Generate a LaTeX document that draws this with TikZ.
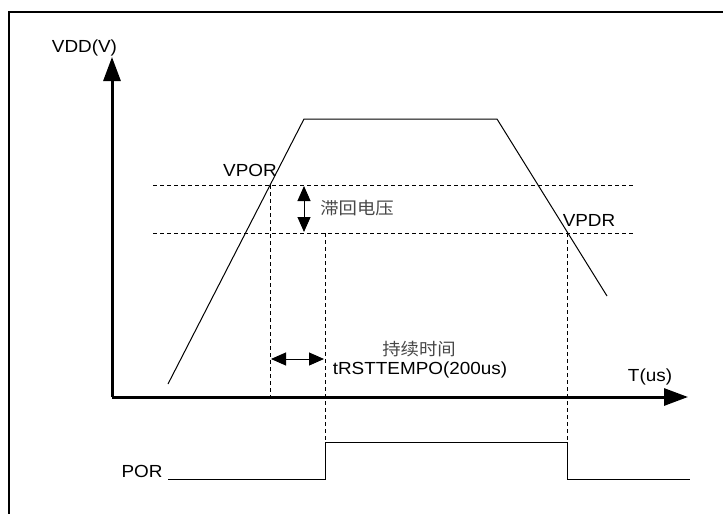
\documentclass[tikz,border=0pt]{standalone}
\usepackage{fontspec}
\setmainfont[FakeStretch=1.08]{Liberation Sans}
\newfontfamily\cjk[FakeStretch=1.08]{Noto Sans CJK SC}
\usetikzlibrary{arrows.meta}
\begin{document}
\begin{tikzpicture}[x=1pt,y=-1pt,
  lbl/.style={inner sep=0pt,font=\fontsize{17.5}{20}\selectfont},
  cjklbl/.style={inner sep=0pt,text=black!72,font=\cjk\fontsize{17}{20}\selectfont},
  axis/.style={line width=3pt,-{Triangle[length=24pt,width=17pt]}},
  wave/.style={line width=1pt},
  guide/.style={line width=0.9pt,dash pattern=on 4pt off 3pt},
  dim/.style={line width=1pt,{Triangle[length=15pt,width=13pt]}-{Triangle[length=15pt,width=13pt]}}]
\useasboundingbox (0,0) rectangle (723,514);
% frame
\coordinate (ftr) at (723,12);
\coordinate (ftl) at (9,12);
\coordinate (fbl) at (9,514);
\draw[line width=2.5pt] (ftr) -- (ftl) -- (fbl);
% axes
\coordinate (o) at (112,397);
\coordinate (ytip) at (112,57);
\coordinate (xtip) at (688,397);
\draw[axis] (o) -- (ytip);
\draw[axis] (o) -- (xtip);
% VDD waveform
\coordinate (v0) at (168,384);
\coordinate (v1) at (304,119);
\coordinate (v2) at (497,119);
\coordinate (v3) at (607,296);
\draw[wave] (v0) -- (v1) -- (v2) -- (v3);
% threshold lines
\coordinate (h1a) at (153,185);
\coordinate (h1b) at (633,185);
\coordinate (h2a) at (153,233);
\coordinate (h2b) at (633,233);
\draw[guide] (h1a) -- (h1b);
\draw[guide] (h2a) -- (h2b);
% vertical guides
\coordinate (g1t) at (270,185);
\coordinate (g1b) at (270,397);
\coordinate (g2t) at (325,233);
\coordinate (g2b) at (325,442);
\coordinate (g3t) at (567,233);
\coordinate (g3b) at (567,442);
\draw[guide] (g1t) -- (g1b);
\draw[guide] (g2t) -- (g2b);
\draw[guide] (g3t) -- (g3b);
% dimension arrows
\coordinate (d1a) at (304,186);
\coordinate (d1b) at (304,232);
\draw[dim] (d1a) -- (d1b);
\coordinate (d2a) at (271,359);
\coordinate (d2b) at (324,359);
\draw[dim] (d2a) -- (d2b);
% POR waveform
\coordinate (p0) at (168,479);
\coordinate (p1) at (325,479);
\coordinate (p2) at (325,442);
\coordinate (p3) at (567,442);
\coordinate (p4) at (567,479);
\coordinate (p5) at (690,479);
\draw[wave] (p0) -- (p1) -- (p2) -- (p3) -- (p4) -- (p5);
% labels
\node[lbl] (vdd) at (84.5,48) {VDD(V)};
\node[lbl] (tus) at (650,377) {T(us)};
\node[lbl] (vpor) at (250,170) {VPOR};
\node[lbl] (vpdr) at (589,220) {VPDR};
\node[lbl] (por) at (142,471) {POR};
\node[cjklbl] (hys) at (357,208) {滞回电压};
\node[cjklbl] (dur) at (419,349) {持续时间};
\node[lbl] (trst) at (420,370) {tRSTTEMPO(200us)};
\end{tikzpicture}
\end{document}
